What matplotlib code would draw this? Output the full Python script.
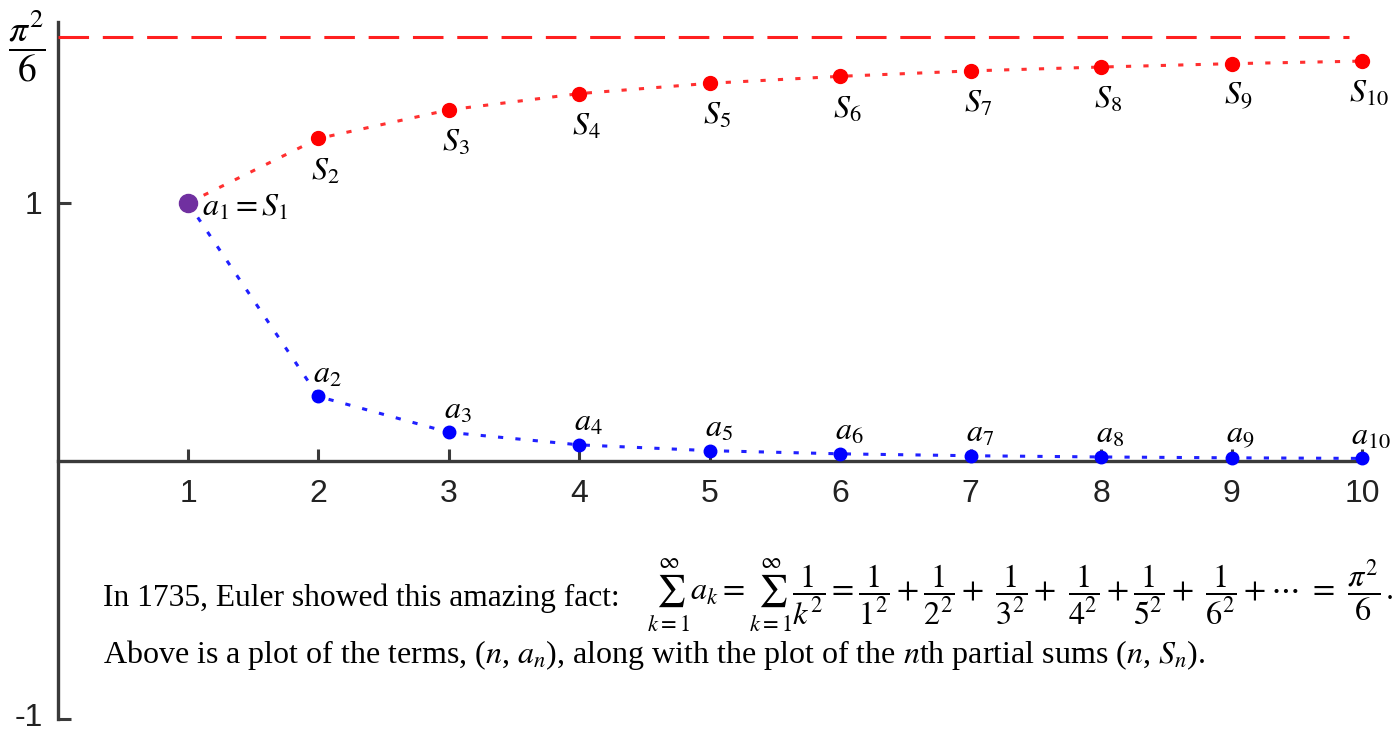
import matplotlib
matplotlib.use("Agg")
import matplotlib.pyplot as plt

plt.rcParams['mathtext.fontset'] = 'stix'

# data
n = [1, 2, 3, 4, 5, 6, 7, 8, 9, 10]
a_n = [1.0, 0.25, 0.111, 0.0625, 0.04, 0.0278, 0.0204, 0.0156, 0.0123, 0.01]
S_n = [1.0, 1.25, 1.361, 1.424, 1.464, 1.491, 1.512, 1.527, 1.540, 1.550]
limit = 1.6449
xticks = [1, 2, 3, 4, 5, 6, 7, 8, 9, 10]
yticks = [-1, 1]
ytick_labels = ['-1', '1']

fig = plt.figure(figsize=(13.98, 7.33), dpi=100)
ax = fig.add_axes([0, 0, 1, 1])
ax.set_xlim(-0.4413, 10.276)
ax.set_ylim(-1.0543, 1.7868)

axcol = '#3a3a3a'
for s in ['top', 'right']:
    ax.spines[s].set_visible(False)
ax.spines['left'].set_position(('data', 0))
ax.spines['bottom'].set_position(('data', 0))
ax.spines['left'].set_bounds(-1, 1.70)
ax.spines['bottom'].set_bounds(0, 10)
for s in ['left', 'bottom']:
    ax.spines[s].set_color(axcol)
    ax.spines[s].set_linewidth(2.4)
    ax.spines[s].set_zorder(1)

ax.set_xticks(xticks)
ax.set_xticklabels([str(t) for t in xticks])
ax.set_yticks(yticks)
ax.set_yticklabels(['' for t in yticks])
ax.tick_params(axis='x', direction='in', length=9, width=2.2, color=axcol,
               pad=13, labelsize=23, labelcolor='#222222')
ax.tick_params(axis='y', direction='in', length=9, width=2.2, color=axcol,
               pad=12, labelsize=23, labelcolor='#222222')
for lab in ax.get_xticklabels():
    lab.set_fontfamily('Liberation Sans')

# y tick labels drawn as text so the lowest one stays inside the figure
for t, lab in zip(yticks, ytick_labels):
    ax.annotate(lab, (0, t), xytext=(-15, 1 if t < 0 else -3),
                textcoords='offset pixels', ha='right', va='center',
                fontsize=23, color='#222222', fontfamily='Liberation Sans',
                annotation_clip=False)

# limit dashed line
ax.plot([0, 9.9], [limit, limit], color='#ff2020', lw=2.2,
        linestyle=(0, (10, 4.5)), zorder=2)

# dotted connecting lines
ax.plot(n, S_n, color='#ff3030', lw=2.2, linestyle=(0, (1.7, 4.0)), zorder=2)
ax.plot(n, a_n, color='#2020ff', lw=2.2, linestyle=(0, (1.7, 4.0)), zorder=2)

# markers
ax.plot(n[1:], S_n[1:], 'o', color='#ff0000', ms=10, zorder=3)
ax.plot(n[1:], a_n[1:], 'o', color='#0000ff', ms=9, zorder=3)
ax.plot([n[0]], [a_n[0]], 'o', color='#7030a0', ms=13, zorder=4)

# labels
for i in range(1, 10):
    ax.annotate(r'$S_{%d}$' % n[i], (n[i], S_n[i]), xytext=(7, -17),
                textcoords='offset pixels', ha='center', va='top',
                fontsize=23, color='black')
    ax.annotate(r'$a_{%d}$' % n[i], (n[i], a_n[i]), xytext=(9, 7),
                textcoords='offset pixels', ha='center', va='bottom',
                fontsize=23, color='black')
ax.annotate(r'$a_1 = S_1$', (n[0], a_n[0]), xytext=(14, -4),
            textcoords='offset pixels', ha='left', va='center',
            fontsize=23, color='black')

# y label for limit
ax.text(-0.234, 1.607, r'$\dfrac{\pi^2}{6}$', ha='center', va='center',
        fontsize=27, color='black')

# bottom text
ax.text(0.348, -0.562, 'In 1735, Euler showed this amazing fact:',
        fontfamily='Liberation Serif', fontsize=22.7, ha='left', va='baseline')
ax.text(4.52, -0.543,
        r'$\sum_{k=1}^{\infty} a_k = \sum_{k=1}^{\infty}\dfrac{1}{k^2} = \dfrac{1}{1^2}+\dfrac{1}{2^2}+\ \dfrac{1}{3^2}+\ \dfrac{1}{4^2}+\dfrac{1}{5^2}+\ \dfrac{1}{6^2}+\cdots\ =\ \dfrac{\pi^2}{6}\,.$',
        fontsize=23.2, ha='left', va='baseline')
ax.text(0.348, -0.783,
        r'Above is a plot of the terms, ($n$, $a_n$), along with the plot of the $n$th partial sums ($n$, $S_n$).',
        fontfamily='Liberation Serif', fontsize=23, ha='left', va='baseline')

fig.savefig('out.png', dpi=100)
